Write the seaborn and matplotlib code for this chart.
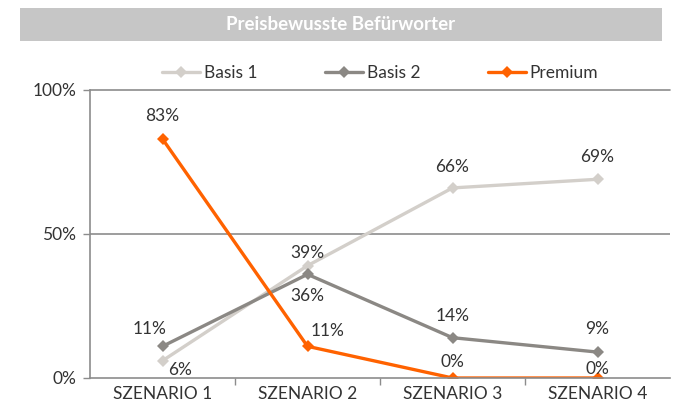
import pandas as pd
import matplotlib
matplotlib.use('Agg')
import matplotlib.pyplot as plt
import seaborn as sns
from matplotlib.patches import Rectangle
from matplotlib.ticker import PercentFormatter

# Daten
szenarien = ['SZENARIO 1', 'SZENARIO 2', 'SZENARIO 3', 'SZENARIO 4']
basis1 = [0.06, 0.39, 0.66, 0.69]
basis2 = [0.11, 0.36, 0.14, 0.09]
premium = [0.83, 0.11, 0.0, 0.0]
serien = ['Basis 1', 'Basis 2', 'Premium']
farben = ['#d3cfca', '#8b8884', '#ff6200']

df = pd.DataFrame({
    'szenario': szenarien * 3,
    'x': list(range(4)) * 3,
    'wert': basis1 + basis2 + premium,
    'serie': [s for s in serien for _ in szenarien],
})

sns.set_theme(style='white')
plt.rcParams['font.family'] = ['Lato', 'DejaVu Sans']
textfarbe = '#333333'
fs = 12.5

fig = plt.figure(figsize=(6.75, 4.12), dpi=100)
ax = fig.add_axes([90 / 675, 1 - 378 / 412, 580 / 675, 288 / 412])

sns.lineplot(data=df, x='x', y='wert', hue='serie', palette=farben,
             style='serie', markers=['D', 'D', 'D'], dashes=False,
             markersize=6, linewidth=2.4, markeredgewidth=0, ax=ax)

# Datenbeschriftungen (Versatz in Pixeln)
versatz = {
    'Basis 1': [(18, -9), (0, 13), (0, 21), (0, 22)],
    'Basis 2': [(-13, 17), (0, -22), (0, 22), (0, 23)],
    'Premium': [(0, 23), (20, 15), (0, 16), (0, 9)],
}
for serie, werte in zip(serien, [basis1, basis2, premium]):
    for i, v in enumerate(werte):
        dx, dy = versatz[serie][i]
        ax.annotate(f"{round(v * 100)}%", (i, v), xytext=(dx, dy),
                    textcoords='offset pixels', ha='center', va='center',
                    fontsize=fs, color=textfarbe)

ax.set_xlim(-0.5, 3.5)
ax.set_ylim(0, 1)
ax.set_xticks(range(4))
ax.set_xticklabels(szenarien, fontsize=fs, color=textfarbe)
ax.set_xticks([0.5, 1.5, 2.5], minor=True)
ax.set_yticks([0, 0.5, 1])
ax.yaxis.set_major_formatter(PercentFormatter(1.0, decimals=0))
ax.tick_params(axis='y', labelsize=fs, labelcolor=textfarbe, length=5,
               color='#8c8c8c', width=1, left=True, pad=5)
ax.tick_params(axis='x', which='major', length=0, pad=6)
ax.tick_params(axis='x', which='minor', length=5, color='#8c8c8c',
               width=1, bottom=True)
ax.set_xlabel('')
ax.set_ylabel('')
ax.grid(False)
ax.axhline(0.5, color='#8c8c8c', lw=1.2, zorder=0)
ax.axhline(1.0, color='#8c8c8c', lw=1.2, zorder=0, clip_on=False)
for s in ['top', 'right']:
    ax.spines[s].set_visible(False)
for s in ['left', 'bottom']:
    ax.spines[s].set_color('#8c8c8c')
    ax.spines[s].set_linewidth(1.2)

# Legende
handles, labels = ax.get_legend_handles_labels()
ax.legend(handles, labels, loc='center', bbox_to_anchor=(0.5, 1 + 17 / 288),
          ncol=3, frameon=False, fontsize=fs, handlelength=2.2,
          handletextpad=0.2, columnspacing=3.9, labelcolor=textfarbe)

# Titelbalken
fig.patches.append(Rectangle((20 / 675, 1 - 41 / 412), 642 / 675, 33 / 412,
                             transform=fig.transFigure, facecolor='#c6c6c6',
                             edgecolor='none'))
fig.text(341 / 675, 1 - 24 / 412, 'Preisbewusste Befürworter', ha='center',
         va='center', color='white', fontsize=13.5, fontweight='bold')

fig.savefig('out.png', dpi=100)
